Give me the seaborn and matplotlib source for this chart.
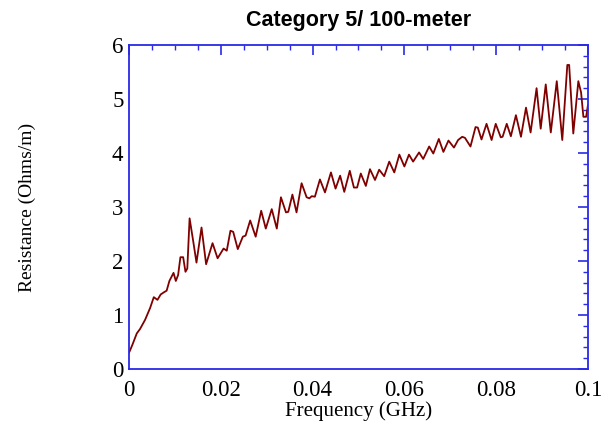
import matplotlib
matplotlib.use("Agg")
import pandas as pd
import seaborn as sns
import matplotlib.pyplot as plt
from matplotlib.ticker import MultipleLocator, FixedLocator, FixedFormatter

# values (GHz, Ohms/m)
freq = [0.0000, 0.0007, 0.0017, 0.0024, 0.0035, 0.0046, 0.0054, 0.0062, 0.0069, 0.0076,
        0.0082, 0.0088, 0.0097, 0.0102, 0.0107, 0.0112, 0.0118, 0.0123, 0.0127, 0.0132,
        0.0140, 0.0147, 0.0158, 0.0168, 0.0182, 0.0193, 0.0206, 0.0213, 0.0221, 0.0227,
        0.0237, 0.0248, 0.0254, 0.0264, 0.0276, 0.0288, 0.0298, 0.0311, 0.0322, 0.0331,
        0.0342, 0.0347, 0.0356, 0.0365, 0.0376, 0.0387, 0.0393, 0.0398, 0.0405, 0.0416,
        0.0427, 0.0440, 0.0450, 0.0460, 0.0469, 0.0481, 0.0490, 0.0497, 0.0505, 0.0516,
        0.0525, 0.0536, 0.0545, 0.0556, 0.0567, 0.0578, 0.0589, 0.0600, 0.0610, 0.0619,
        0.0632, 0.0641, 0.0654, 0.0663, 0.0675, 0.0685, 0.0696, 0.0708, 0.0717, 0.0726,
        0.0732, 0.0744, 0.0755, 0.0760, 0.0768, 0.0779, 0.0790, 0.0799, 0.0810, 0.0814,
        0.0823, 0.0832, 0.0843, 0.0854, 0.0865, 0.0875, 0.0888, 0.0897, 0.0908, 0.0919,
        0.0932, 0.0944, 0.0955, 0.0959, 0.0968, 0.0979, 0.0985, 0.0990, 0.0996, 0.1000]
resistance = [0.30, 0.44, 0.66, 0.74, 0.91, 1.13, 1.33, 1.28, 1.38, 1.42,
              1.45, 1.63, 1.78, 1.63, 1.74, 2.07, 2.07, 1.80, 1.86, 2.79,
              2.36, 1.97, 2.62, 1.94, 2.33, 2.05, 2.23, 2.19, 2.56, 2.54,
              2.22, 2.45, 2.47, 2.75, 2.45, 2.93, 2.60, 2.96, 2.60, 3.18,
              2.90, 2.91, 3.23, 2.90, 3.44, 3.18, 3.16, 3.20, 3.19, 3.51,
              3.27, 3.64, 3.34, 3.58, 3.28, 3.67, 3.36, 3.36, 3.62, 3.39,
              3.70, 3.50, 3.69, 3.57, 3.84, 3.64, 3.97, 3.75, 3.97, 3.84,
              4.01, 3.89, 4.12, 3.99, 4.26, 4.02, 4.23, 4.10, 4.24, 4.30,
              4.28, 4.12, 4.48, 4.47, 4.25, 4.54, 4.24, 4.54, 4.29, 4.30,
              4.54, 4.31, 4.70, 4.30, 4.84, 4.38, 5.20, 4.45, 5.27, 4.38,
              5.33, 4.24, 5.63, 5.63, 4.36, 5.33, 5.12, 4.67, 4.67, 4.89]

xticks = [0, 0.02, 0.04, 0.06, 0.08, 0.1]
xtick_labels = ["0", "0.02", "0.04", "0.06", "0.08", "0.1"]
yticks = [0, 1, 2, 3, 4, 5, 6]
ytick_labels = ["0", "1", "2", "3", "4", "5", "6"]

if __name__ == "__main__":
    df = pd.DataFrame({"Frequency": freq, "Resistance": resistance})

    sns.set_style("white")
    plt.rcParams['font.family'] = ['Liberation Serif', 'DejaVu Serif']
    plt.rcParams['text.color'] = 'black'
    plt.rcParams['axes.labelcolor'] = 'black'

    frame = "#2a2ae6"
    fig = plt.figure(figsize=(6.02, 4.28), dpi=100)
    ax = fig.add_axes([0.2143, 0.1379, 0.7624, 0.757])
    sns.lineplot(data=df, x="Frequency", y="Resistance", ax=ax, color="#800000", linewidth=1.3)

    ax.set_xlim(0, 0.1)
    ax.set_ylim(0, 6)
    ax.xaxis.set_major_locator(FixedLocator(xticks))
    ax.xaxis.set_major_formatter(FixedFormatter(xtick_labels))
    ax.yaxis.set_major_locator(FixedLocator(yticks))
    ax.yaxis.set_major_formatter(FixedFormatter(ytick_labels))
    ax.xaxis.set_minor_locator(MultipleLocator(0.005))
    ax.yaxis.set_minor_locator(MultipleLocator(0.2))

    ax.tick_params(which="both", direction="in", top=True, right=True, colors=frame, labelcolor="black", labelsize=16.5)
    ax.tick_params(which="major", length=7, width=1.2)
    ax.tick_params(which="minor", length=3.5, width=1.0)
    ax.tick_params(axis="x", pad=8)
    ax.tick_params(axis="y", pad=4)
    for s in ax.spines.values():
        s.set_color(frame)
        s.set_linewidth(1.3)

    ax.set_xlabel("Frequency (GHz)", fontsize=15, labelpad=0)
    ax.set_ylabel("Resistance (Ohms/m)", fontsize=14)
    ax.yaxis.set_label_coords(-0.203, 0.5)
    ax.set_title("Category 5/ 100-meter", family=["Liberation Sans", "DejaVu Sans"], fontweight="bold", fontsize=15.5, pad=14, color="black")

    fig.savefig("out.png", dpi=100)
    plt.close()
